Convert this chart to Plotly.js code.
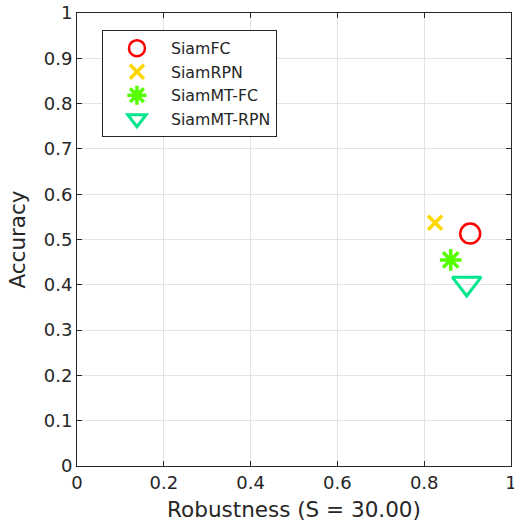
<!DOCTYPE html>
<html>
<head>
<meta charset="utf-8">
<script src="https://cdn.plot.ly/plotly-3.0.1.min.js"></script>
<style>html,body{margin:0;padding:0;background:#fff;}#chart{width:514px;height:527px;}</style>
</head>
<body>
<div id="chart"></div>
<script>
// Data
const trackers = ["SiamFC", "SiamRPN", "SiamMT-FC", "SiamMT-RPN"];
const robustness = [0.906, 0.825, 0.861, 0.898];
const accuracy = [0.513, 0.537, 0.455, 0.403];
const xTickVals = [0, 0.2, 0.4, 0.6, 0.8, 1];
const yTickVals = [0, 0.1, 0.2, 0.3, 0.4, 0.5, 0.6, 0.7, 0.8, 0.9, 1];

const styles = [
  {symbol: "circle-open", size: 20, color: "#FF0000", width: 2.5},
  {symbol: "x-thin-open", size: 14, color: "#FFD700", width: 3.5},
  {symbol: "asterisk-open", size: 18, color: "#55FF00", width: 3.5},
  {symbol: "triangle-down-open", size: 25, color: "#00E68C", width: 3}
];

const traces = trackers.map((name, i) => ({
  type: "scatter",
  mode: "markers",
  name: name,
  x: [robustness[i]],
  y: [accuracy[i]],
  marker: {
    symbol: styles[i].symbol,
    size: styles[i].size,
    color: styles[i].color,
    line: {color: styles[i].color, width: styles[i].width}
  }
}));

const axisCommon = {
  showline: true,
  linecolor: "#262626",
  linewidth: 1,
  mirror: "ticks",
  ticks: "inside",
  ticklen: 5,
  tickwidth: 1,
  tickcolor: "#262626",
  showgrid: true,
  gridcolor: "#e3e3e3",
  gridwidth: 1,
  zeroline: false,
  tickfont: {family: "DejaVu Sans", size: 18, color: "#262626"},
  tickmode: "array",
  ticklabeloverflow: "allow"
};

const layout = {
  width: 514,
  height: 527,
  margin: {l: 77, r: 3, t: 13, b: 61},
  paper_bgcolor: "#ffffff",
  plot_bgcolor: "#ffffff",
  font: {family: "DejaVu Sans", color: "#262626"},
  xaxis: Object.assign({}, axisCommon, {
    range: [0, 1],
    tickvals: xTickVals,
    title: {text: "Robustness (S = 30.00)", font: {family: "DejaVu Sans", size: 21.5, color: "#262626"}, standoff: 10}
  }),
  yaxis: Object.assign({}, axisCommon, {
    range: [0, 1],
    tickvals: yTickVals,
    title: {text: "Accuracy", font: {family: "DejaVu Sans", size: 21.5, color: "#262626"}, standoff: 12}
  }),
  showlegend: true,
  legend: {
    x: 0.0575,
    y: 0.9616,
    xanchor: "left",
    yanchor: "top",
    bgcolor: "#ffffff",
    bordercolor: "#262626",
    borderwidth: 1,
    font: {family: "DejaVu Sans", size: 15.8, color: "#262626"},
    itemwidth: 58,
    tracegroupgap: 0
  }
};

Plotly.newPlot("chart", traces, layout, {displayModeBar: false, staticPlot: true});
</script>
</body>
</html>
